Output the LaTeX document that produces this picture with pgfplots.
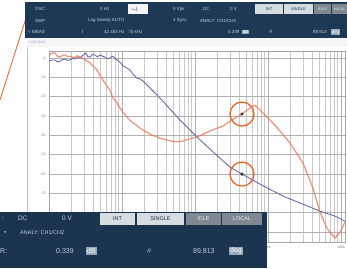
\documentclass[border=0pt]{standalone}
\usepackage{pgfplots}
\pgfplotsset{compat=1.18}
\usepackage{fontspec}
\setmainfont{Liberation Sans}
\definecolor{navy}{RGB}{30,57,86}
\definecolor{navyB}{RGB}{27,52,80}
\definecolor{btnL}{RGB}{214,220,224}
\definecolor{btnD}{RGB}{128,136,146}
\definecolor{redc}{RGB}{236,118,86}
\definecolor{bluec}{RGB}{92,96,164}
\definecolor{orng}{RGB}{240,90,30}
\definecolor{hdtxt}{RGB}{196,208,220}
\definecolor{hlbox}{RGB}{150,168,186}
\begin{document}
\begin{tikzpicture}
\useasboundingbox (0pt,0pt) rectangle (347pt,-268pt);
\fill[white] (0pt,0pt) rectangle (347pt,-268pt);
\begin{axis}[at={(49pt,-51.7pt)}, anchor=north west, width=296pt, height=190.3pt, scale only axis,
  xmode=log, xmin=10, xmax=113500, ymin=-95.3, ymax=3.3,
  axis line style={draw=gray!70, line width=0.5pt},
  xtick={10,100,1000,10000,100000}, xticklabels={10,100,1k,10k,100k},
  minor xtick={20,30,40,50,60,70,80,90,200,300,400,500,600,700,800,900,2000,3000,4000,5000,6000,7000,8000,9000,20000,30000,40000,50000,60000,70000,80000,90000},
  ytick={0,-10,-20,-30,-40,-50,-60,-70,-80,-90},
  yticklabels={0,-10,-20,-30,-40,-50,-60,-70,{},{}},
  grid=both, major grid style={gray!62, line width=0.45pt}, minor grid style={gray!42, line width=0.35pt},
  major tick length=0pt, minor tick length=0pt,
  tick label style={font=\fontsize{3.5}{4}\selectfont, text=gray},
  clip=true]
\addplot[bluec, line width=0.8pt] coordinates {(10,-1.6)(11,-1.0)(12.08,-1.0)(13,-2.0)(14.15,-1.6)(15.3,-0.8)(16.57,-0.5)(18,-1.2)(19.4,-1.0)(21,-0.2)(22.71,-0.5)(24.5,0.3)(26.59,0)(29,1.5)(32.13,2.6)(34,0.8)(36.44,0.5)(39,1.8)(42.67,1.6)(46,0.6)(49.95,1.6)(54,1.0)(58.49,0.5)(63,-0.3)(68.48,0)(73,1.0)(77.7,0.5)(85.42,-1.0)(93.88,-2.1)(103.2,-4.1)(115,-5.0)(128.7,-6.2)(145,-8.8)(160.5,-10.4)(175,-10.8)(194,-11.9)(241.9,-15.5)(364.4,-22.3)(454.5,-26.4)(623,-32.1)(1065,-40.9)(1605,-47.2)(3016,-56.5)(4404,-60.1)(7770,-65.3)(16050,-71.5)(27440,-75.1)(51560,-79.3)(82770,-81.9)(113500,-84.5)};
\addplot[redc, line width=1.2pt, opacity=0.8] coordinates {(10,1.6)(11,2.6)(12.08,2.6)(13,1.0)(14.15,0.5)(15.5,1.5)(16.57,1.6)(18,0.8)(19.4,1.0)(21,0.3)(22.71,0.5)(24.5,1.2)(26.59,0.5)(29.5,-0.3)(33.16,-1.6)(36.5,-2.5)(40.06,-4.2)(44,-5.5)(49.95,-8.8)(55,-11.5)(62.31,-14.5)(68,-16.5)(75.29,-20.7)(83,-22.5)(93.88,-25.9)(105,-28.5)(117.1,-30.6)(130,-32.5)(150.8,-34.2)(176.4,-36.3)(241.9,-39.4)(331.6,-41.5)(499.5,-43.3)(623,-43.3)(1065,-40.9)(1605,-37.8)(2419,-35.2)(3532,-31.1)(4404,-29.0)(5668,-25.9)(6636,-24.4)(8277,-28.0)(10650,-32.1)(14600,-37.8)(20020,-44.0)(30160,-54.4)(41350,-67.4)(51560,-79.8)(64300,-88.1)(82770,-93.3)(96900,-90.2)(113500,-85.0)};
\addplot[only marks, mark=*, mark size=1.4pt, black!80] coordinates {(4404,-29.0)(4404,-60.1)};
\addplot[only marks, mark=o, mark size=12pt, orng, line width=1.2pt] coordinates {(4404,-29.0)(4404,-60.1)};
\end{axis}
\begin{scope}[x=1pt,y=1pt]
\draw[gray!50, line width=0.5pt] (27,-37) -- (27,-268);
\fill[gray!8] (27.3,-37) rectangle (347,-47);
\node[anchor=west, inner sep=0, font=\fontsize{3.5}{4}\selectfont, text=bluec!60] at (29,-42) {LOG MAG};
% orange pointer line
\draw[orng, line width=0.8pt] (0,-100) -- (26,-18);
% header
\fill[navy] (25,-1.5) rectangle (347,-38);
\begin{scope}[every node/.style={anchor=west, inner sep=0, font=\fontsize{4.5}{5}\selectfont, text=hdtxt}]
\node at (35,-9) {OSC};
\node at (100,-9) {0 Hz};
\fill[white!92!gray] (128,-4) rectangle (148,-14);
\node[text=navy, font=\fontsize{6}{6}\selectfont] at (131,-9) {$\sim$\!\textbackslash};
\node at (173,-9) {0 Vpk};
\node at (203,-9) {DC};
\node at (230,-9) {0 V};
\node at (35,-20.5) {SWP};
\node at (88,-20.5) {Log Sweep AUTO};
\node at (173,-20.5) {1 Sync};
\node at (200,-20.5) {ANALY: CH1/CH2};
\node at (28,-32) {\textless\ MEAS};
\node at (82,-32) {f};
\node at (104,-32) {42.453 Hz ~ 70 kHz};
\node at (228,-32) {0.339};
\node[fill=hlbox, inner sep=0.6pt, text=white] at (242,-32) {dB};
\node at (269,-32) {$\theta$};
\node at (313,-32) {89.813};
\node[fill=hlbox, inner sep=0.6pt, text=white] at (331,-32) {deg};
\end{scope}
\fill[btnL] (255,-4) rectangle (283,-14);
\fill[btnL] (284,-4) rectangle (313,-14);
\fill[btnD] (314,-4) rectangle (331,-14);
\fill[btnD] (332,-4) rectangle (347,-14);
\begin{scope}[every node/.style={inner sep=0, font=\fontsize{4}{4}\selectfont}]
\node[text=navy] at (269,-9) {INT};
\node[text=navy] at (298.5,-9) {SINGLE};
\node[text=white!85!gray] at (322.5,-9) {IDLE};
\node[text=white!85!gray, font=\fontsize{3.5}{4}\selectfont] at (339.5,-9) {LOCAL};
\end{scope}
% inset panel
\fill[navyB] (0,-212) rectangle (267,-268);
\fill[btnL] (100,-213) rectangle (135,-225);
\fill[btnL] (137,-213) rectangle (184,-225);
\fill[btnD] (186,-213) rectangle (221,-225);
\fill[btnD] (222,-213) rectangle (262,-225);
\begin{scope}[every node/.style={anchor=west, inner sep=0, font=\fontsize{6.5}{7}\selectfont, text=hdtxt}]
\node at (2,-218.5) {:};
\node at (18,-218.5) {DC};
\node at (62,-218.5) {0 V};
\node at (4,-233) {\textbullet};
\node[font=\fontsize{5.5}{6}\selectfont] at (20,-233) {ANALY: CH1/CH2};
\node[font=\fontsize{7}{8}\selectfont] at (0,-251) {R:};
\node[font=\fontsize{7}{8}\selectfont] at (56,-251) {0.339};
\node[font=\fontsize{7}{8}\selectfont, fill=hlbox, inner sep=1pt, text=white] at (86,-251) {dB};
\node[font=\fontsize{7}{8}\selectfont] at (147,-251) {$\theta$};
\node[font=\fontsize{7}{8}\selectfont] at (193,-251) {89.813};
\node[font=\fontsize{7}{8}\selectfont, fill=hlbox, inner sep=1pt, text=white] at (229,-251) {deg};
\end{scope}
\begin{scope}[every node/.style={inner sep=0, font=\fontsize{5.5}{6}\selectfont}]
\node[text=navy] at (117.5,-219) {INT};
\node[text=navy] at (160.5,-219) {SINGLE};
\node[text=white!85!gray] at (203.5,-219) {IDLE};
\node[text=white!85!gray] at (242,-219) {LOCAL};
\end{scope}
\end{scope}
\end{tikzpicture}
\end{document}
